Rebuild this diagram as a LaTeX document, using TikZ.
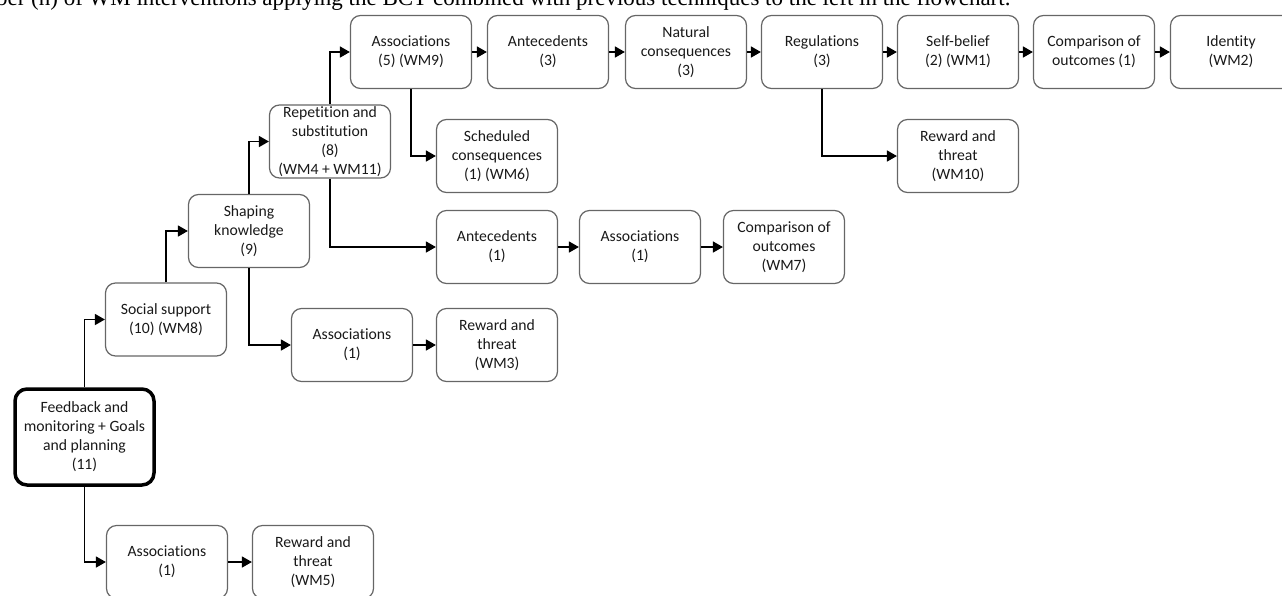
\documentclass[tikz,border=0pt]{standalone}
\usepackage{fontspec}
\setmainfont{Carlito}[Ligatures=NoCommon]
\newfontfamily\capfont{Liberation Serif}
\usetikzlibrary{arrows.meta}

\begin{document}
\begin{tikzpicture}
    [x=1pt,y=-1pt, font=\fontsize{15.7}{19}\selectfont,
     box/.style={rectangle, draw=black!60, line width=1.2pt, rounded corners=10pt, minimum width=121pt, minimum height=73pt, inner sep=0pt, align=center, text=black!90},
     start/.style={box, draw=black, line width=3.5pt, rounded corners=12pt, minimum width=139pt, minimum height=96pt},
     link/.style={line width=1.5pt, -{Triangle[length=10pt,width=11pt]}}]
    \useasboundingbox (0,0) rectangle (1282,595);
    \clip (0,0) rectangle (1282,595);
    \node[font=\capfont\fontsize{23}{27}\selectfont, anchor=base west, inner sep=0pt] (cap) at (-22,5) {mber (n) of WM interventions applying the BCT combined with previous techniques to the left in the flowchart.};
    % first row
    \node[box] (as5) at (411, 52) {Associations\\(5) (WM9)};
    \node[box] (an3) at (548, 52) {Antecedents\\(3)};
    \node[box] (nc3) at (686, 52) {Natural\\consequences\\(3)};
    \node[box] (rg3) at (822, 52) {Regulations\\(3)};
    \node[box] (sb2) at (958, 52) {Self-belief\\(2) (WM1)};
    \node[box] (co1) at (1094, 52) {Comparison of\\outcomes (1)};
    \node[box] (id) at (1231, 52) {Identity\\(WM2)};
    \node[box] (sc1) at (497, 156) {Scheduled\\consequences\\(1) (WM6)};
    \node[box] (rw10) at (958, 156) {Reward and\\threat\\(WM10)};
    \node[box] (rep) at (330, 141.5) {Repetition and\\substitution\\(8)\\(WM4 + WM11)};
    \node[box] (shp) at (249, 231) {Shaping\\knowledge\\(9)};
    \node[box] (an1) at (497, 247) {Antecedents\\(1)};
    \node[box] (as1) at (640, 247) {Associations\\(1)};
    \node[box] (co7) at (784, 247) {Comparison of\\outcomes\\(WM7)};
    \node[box] (soc) at (166, 319.5) {Social support\\(10) (WM8)};
    \node[box] (as1b) at (352, 345) {Associations\\(1)};
    \node[box] (rw3) at (497, 345) {Reward and\\threat\\(WM3)};
    \node[start] (fb) at (84.5, 437) {Feedback and\\monitoring + Goals\\and planning\\(11)};
    \node[box] (as1c) at (167, 562) {Associations\\(1)};
    \node[box] (rw5) at (313, 562) {Reward and\\threat\\(WM5)};
    % connectors
    \draw[link] (fb.north) |- (soc.west);
    \draw[link] (fb.south) |- (as1c.west);
    \draw[link] (as1c) -- (rw5);
    \draw[link] (soc.north) |- (shp.west);
    \draw[link] (shp.north) |- (rep.west);
    \draw[link] (shp.south) |- (as1b.west);
    \draw[link] (as1b) -- (rw3);
    \draw[link] (rep.north) |- (as5.west);
    \draw[link] (rep.south) |- (an1.west);
    \draw[link] (an1) -- (as1);
    \draw[link] (as1) -- (co7);
    \draw[link] (as5.south) |- (sc1.west);
    \draw[link] (as5) -- (an3);
    \draw[link] (an3) -- (nc3);
    \draw[link] (nc3) -- (rg3);
    \draw[link] (rg3) -- (sb2);
    \draw[link] (sb2) -- (co1);
    \draw[link] (co1) -- (id);
    \draw[link] (rg3.south) |- (rw10.west);
  \end{tikzpicture}
\end{document}
